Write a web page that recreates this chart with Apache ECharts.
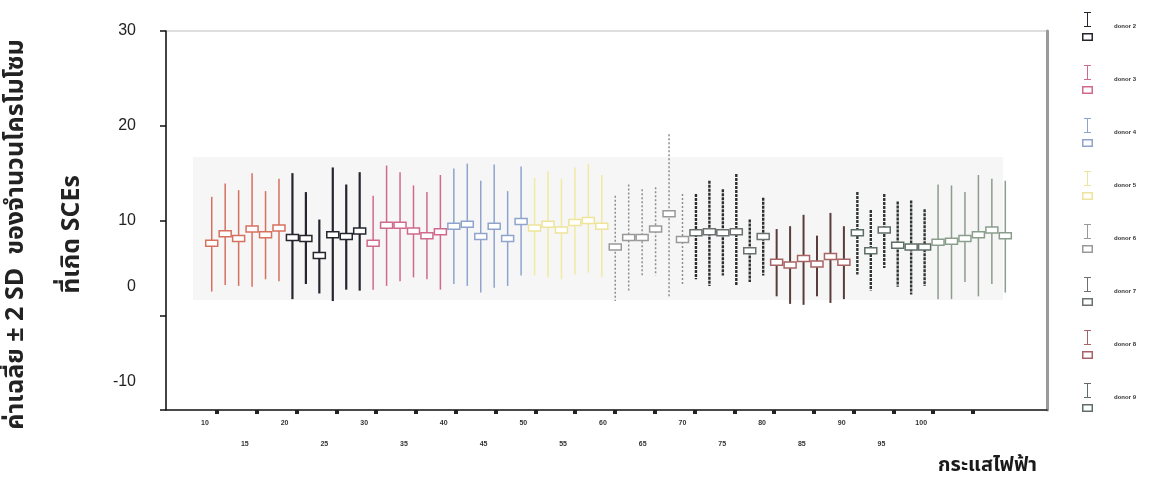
<!DOCTYPE html>
<html><head><meta charset="utf-8">
<script src="https://cdn.jsdelivr.net/npm/echarts@6/dist/echarts.min.js"></script>
<style>html,body{margin:0;padding:0;background:#fff}#c{width:1154px;height:479px}</style>
</head><body><div id="c"></div>
<script>
// ---- data ----
const donorNames = ['donor 1','donor 2','donor 3','donor 4','donor 5','donor 6','donor 7','donor 8','donor 9','donor 10'];
const legendShown = ['donor 2','donor 3','donor 4','donor 5','donor 6','donor 7','donor 8','donor 9'];
const currentTicks = [10,15,20,25,30,35,40,45,50,55,60,65,70,75,80,85,90,95,100,105];
const currentLabels = [10,15,20,25,30,35,40,45,50,55,60,65,70,75,80,85,90,95,100];

const d1Mean = [7.6, 8.6, 8.1, 9.1, 8.5, 9.2];
const d1Low  = [2.5, 3.2, 3.1, 3.0, 3.8, 3.6];
const d1High = [12.5, 13.9, 13.2, 15.0, 13.1, 14.4];
const d2Mean = [8.2, 8.1, 6.3, 8.5, 8.3, 8.9];
const d2Low  = [1.7, 3.3, 2.3, 1.5, 2.7, 2.6];
const d2High = [15.0, 13.0, 10.1, 15.6, 13.8, 15.1];
const d3Mean = [7.6, 9.5, 9.5, 8.9, 8.4, 8.8];
const d3Low  = [2.7, 3.1, 3.6, 4.0, 3.8, 2.7];
const d3High = [12.6, 15.8, 15.1, 13.7, 13.0, 14.8];
const d4Mean = [9.4, 9.6, 8.3, 9.4, 8.1, 9.9];
const d4Low  = [3.3, 3.1, 2.4, 2.9, 3.1, 4.2];
const d4High = [15.5, 16.0, 14.2, 15.9, 13.1, 15.7];
const d5Mean = [9.2, 9.6, 9.0, 9.8, 10.0, 9.4];
const d5Low  = [4.2, 4.0, 3.8, 4.3, 4.5, 4.0];
const d5High = [14.5, 15.2, 14.4, 15.6, 16.0, 14.8];
const d6Mean = [7.2, 8.2, 8.2, 9.1, 10.7, 8.0];
const d6Low  = [1.5, 2.4, 4.0, 4.2, 2.0, 3.1];
const d6High = [12.6, 13.8, 13.3, 13.5, 19.1, 12.8];
const d7Mean = [8.7, 8.8, 8.7, 8.8, 6.8, 8.3];
const d7Low  = [3.8, 3.1, 4.2, 3.1, 3.5, 4.2];
const d7High = [12.8, 14.2, 13.3, 14.9, 10.1, 12.4];
const d8Mean = [5.6, 5.3, 6.0, 5.4, 6.2, 5.6];
const d8Low  = [2.0, 1.2, 1.1, 2.0, 1.3, 1.7];
const d8High = [9.1, 9.4, 10.6, 8.4, 10.8, 9.4];
const d9Mean = [8.7, 6.8, 9.0, 7.4, 7.2, 7.2];
const d9Low  = [4.3, 2.6, 5.0, 3.0, 2.2, 3.1];
const d9High = [13.0, 11.1, 12.8, 12.0, 12.1, 11.2];
const d10Mean = [7.7, 7.8, 8.1, 8.5, 9.0, 8.4];
const d10Low  = [1.7, 1.7, 3.5, 2.0, 3.3, 2.4];
const d10High = [13.8, 13.7, 13.0, 14.8, 14.4, 14.2];

const groupMeans = [d1Mean,d2Mean,d3Mean,d4Mean,d5Mean,d6Mean,d7Mean,d8Mean,d9Mean,d10Mean];
const groupLows  = [d1Low,d2Low,d3Low,d4Low,d5Low,d6Low,d7Low,d8Low,d9Low,d10Low];
const groupHighs = [d1High,d2High,d3High,d4High,d5High,d6High,d7High,d8High,d9High,d10High];

// ---- styles ----
const lineColors = ['#d6705f','#25252f','#d06a8c','#8ea4cd','#f1eaa2','#8f8f8f','#2e2e2e','#5a3c3c','#2f3532','#8d9c8f'];
const boxColors  = ['#d6705f','#25252f','#d06a8c','#8ea4cd','#eee49a','#999999','#6b7070','#a86464','#5f6e66','#8a9e8c'];
const lineWidths = [1.5, 2.2, 1.5, 1.5, 1.5, 1.5, 2.4, 2, 2.4, 1.5];
const lineDashes = [null, null, null, null, null, [2,2], [3,1], null, [3,1], null];

const legendIcon = 'path://M2 0H9V1H2Z M5 1H6V14H5Z M2 14H9V15H2Z M0 21H11V29H0Z M1.5 22.5V27.5H9.5V22.5Z';

const series = groupMeans.map((means, g) => ({
  name: donorNames[g],
  type: 'custom',
  xAxisIndex: 0, yAxisIndex: 0,
  itemStyle: { color: boxColors[g] },
  encode: { x: 0, y: [1, 2, 3] },
  data: means.map((m, j) => [g * means.length + j, m, groupLows[g][j], groupHighs[g][j]]),
  renderItem: (params, api) => {
    const x = api.value(0);
    const pm = api.coord([x, api.value(1)]);
    const plo = api.coord([x, api.value(2)]);
    const phi = api.coord([x, api.value(3)]);
    return {
      type: 'group',
      children: [
        { type: 'line', shape: { x1: phi[0], y1: phi[1], x2: plo[0], y2: plo[1] },
          style: { stroke: lineColors[g], lineWidth: lineWidths[g], lineDash: lineDashes[g] } },
        { type: 'rect', shape: { x: pm[0] - 6, y: pm[1] - 3, width: 12, height: 6 },
          style: { fill: '#ffffff', stroke: boxColors[g], lineWidth: 1.5 } }
      ]
    };
  }
}));

const chart = echarts.init(document.getElementById('c'), null, { renderer: 'canvas' });
chart.setOption({
  animation: false,
  backgroundColor: '#ffffff',
  graphic: [
    { type: 'rect', z: -10, silent: true, shape: { x: 193, y: 157, width: 810, height: 143 }, style: { fill: '#f6f6f6' } }
  ],
  title: {
    text: 'กระแสไฟฟ้า', right: 112, top: 452,
    textStyle: { fontSize: 20, fontWeight: 'bold', color: '#1a1a1a', fontFamily: 'Noto Sans Thai, Noto Sans, sans-serif' }
  },
  legend: {
    data: legendShown.map(n => ({ name: n, icon: legendIcon })),
    orient: 'vertical', left: 1077, top: 7,
    itemWidth: 11, itemHeight: 30, itemGap: 24,
    selectedMode: false,
    textStyle: { fontSize: 6, fontWeight: 'bold', color: '#333', padding: [16, 0, 0, 16] }
  },
  grid: { left: 166, right: 107, top: 31, bottom: 69, show: true, borderColor: '#bdbdbd', borderWidth: 1,
          containLabel: false, outerBoundsMode: 'none' },
  xAxis: [
    { type: 'value', min: -3.4, max: 62.1, show: false },
    { type: 'value', min: 3.59, max: 114.3, position: 'bottom',
      axisLine: { show: true, onZero: false, lineStyle: { color: '#1a1a1a', width: 1.5 } },
      axisTick: { show: true, customValues: currentTicks, length: 4, lineStyle: { color: '#222', width: 4 } },
      splitLine: { show: false },
      axisLabel: {
        customValues: currentLabels, margin: 10,
        formatter: v => (((v - 10) / 5) % 2 === 0 ? '{a|' + v + '}' : '{b|' + v + '}'),
        rich: {
          a: { fontSize: 7, fontWeight: 'bold', color: '#333', padding: [0, 24, 0, 0] },
          b: { fontSize: 7, fontWeight: 'bold', color: '#333', padding: [21, 24, 0, 0] }
        }
      }
    }
  ],
  yAxis: [
    { type: 'value', min: -10, max: 30, interval: 10,
      axisLine: { show: true, onZero: false, lineStyle: { color: '#111', width: 1.5 } },
      axisTick: { show: true, length: 6, lineStyle: { color: '#111', width: 1.5 } },
      splitLine: { show: false },
      axisLabel: {
        margin: 30,
        formatter: v => (v <= 0 ? '{u|' + v + '}' : '{n|' + v + '}'),
        rich: {
          n: { fontSize: 16, color: '#222', fontFamily: 'Liberation Sans, Arial, sans-serif' },
          u: { fontSize: 16, color: '#222', fontFamily: 'Liberation Sans, Arial, sans-serif', padding: [0, 0, 57, 0] }
        }
      },
      name: 'ค่าเฉลี่ย ± 2 SD  ของจำนวนโครโมโซม\nที่เกิด SCEs',
      nameLocation: 'middle', nameRotate: 90, nameGap: 46,
      nameTextStyle: { fontSize: 25, fontWeight: 'bold', color: '#222', lineHeight: 56,
        fontFamily: 'Noto Sans Thai, Noto Sans, sans-serif', padding: [8, 28, 0, 0] }
    },
    { type: 'value', min: -10, max: 30, position: 'right',
      axisLine: { show: true, onZero: false, lineStyle: { color: '#9a9a9a', width: 3 } },
      axisTick: { show: false }, axisLabel: { show: false }, splitLine: { show: false } }
  ],
  series: series
});
</script>
</body></html>
